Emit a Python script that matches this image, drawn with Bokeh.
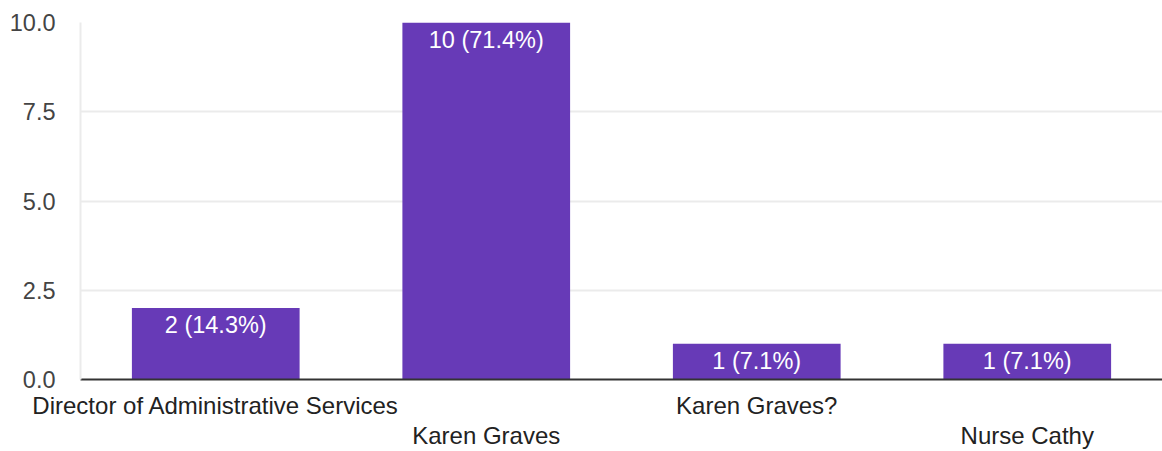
from bokeh.plotting import figure
from bokeh.models import (ColumnDataSource, FactorRange, Range1d, LabelSet,
                          NumeralTickFormatter, FixedTicker, CategoricalAxis,
                          CustomJSTickFormatter)
from bokeh.core.properties import value
from bokeh.embed import file_html
from bokeh.resources import INLINE

categories = ["Director of Administrative Services", "Karen Graves", "Karen Graves?", "Nurse Cathy"]
counts = [2, 10, 1, 1]
y_ticks = [0, 2.5, 5, 7.5, 10]

total = sum(counts)
bar_labels = [f"{c} ({c / total * 100:.1f}%)" for c in counts]

source = ColumnDataSource(dict(cat=categories, count=counts, label=bar_labels))

FONT = "Liberation Sans"
W, H = 1162, 451

p = figure(
    width=W, height=H,
    x_range=FactorRange(*categories, range_padding=0),
    y_range=Range1d(y_ticks[0], y_ticks[-1]),
    output_backend="svg", toolbar_location=None,
    min_border_left=80, min_border_right=0, min_border_top=22,
    min_border_bottom=72,
)
p.outline_line_color = None
p.background_fill_color = "white"
p.border_fill_color = "white"

p.ygrid.grid_line_color = "#ebebeb"
p.ygrid.grid_line_width = 2
p.xgrid.grid_line_color = None

p.vbar(x="cat", top="count", bottom=0, width=0.62, source=source,
       fill_color="#673ab7", line_color=None)

# y axis
p.yaxis.ticker = FixedTicker(ticks=y_ticks)
p.yaxis.formatter = NumeralTickFormatter(format="0.0")
p.yaxis.major_tick_out = 0
p.yaxis.major_tick_in = 0
p.yaxis.minor_tick_line_color = None
p.yaxis.major_label_standoff = 25
p.yaxis.major_label_text_font = FONT
p.yaxis.major_label_text_font_size = "23.5px"
p.yaxis.major_label_text_color = "#444444"
p.yaxis.axis_line_color = "#ebebeb"
p.yaxis.axis_line_width = 2

# x axes: staggered category labels (first row: even index, second row: odd index)
ax1 = p.xaxis[0]
ax1.formatter = CustomJSTickFormatter(code="return (index % 2 == 0) ? tick : ' ';")
ax1.major_tick_out = 0
ax1.major_tick_in = 0
ax1.major_label_standoff = 12
ax1.major_label_text_font = FONT
ax1.major_label_text_font_size = "24px"
ax1.major_label_text_color = "#222222"
ax1.axis_line_color = "#333333"
ax1.axis_line_width = 2

ax2 = CategoricalAxis(formatter=CustomJSTickFormatter(code="return (index % 2 == 1) ? tick : ' ';"),
                      major_tick_out=0, major_tick_in=0,
                      major_label_standoff=0, major_label_text_font=FONT,
                      major_label_text_font_size="24px", major_label_text_color="#222222",
                      axis_line_color=None)
p.add_layout(ax2, "below")

val_labels = LabelSet(x="cat", y="count", text="label", y_offset=-25, source=source,
                      text_align="center", text_baseline="alphabetic",
                      text_font=value(FONT), text_font_size="23.5px", text_color="white")
p.add_layout(val_labels)

open("out.html", "w").write(file_html(p, INLINE))
